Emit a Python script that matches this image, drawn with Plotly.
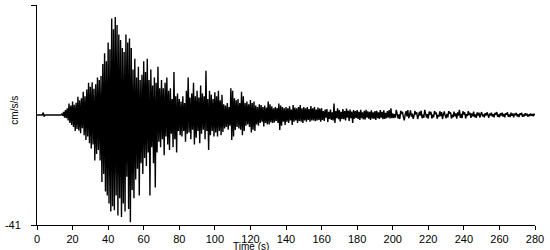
import numpy as np
import plotly.graph_objects as go

# Sampling interval of the record (s)
dt = 0.5

# Acceleration samples (cm/s/s), one every 0.5 s
accel = [
    # 0 - 9.5 s
    0, 0, 0, 0, 0, 0, 0, 0.9, -0.6, 0, 0, 0, 0, 0, 0, 0, 0, 0, 0, 0,
    # 10 - 19.5 s
    0, 0, 0, 0, 0, 0, 0, 0, 0.4, -0.3, 1.2, -1.0, 1.8, -1.2, 2.5, -2.0, 4.3, -3.0, 3.5, -3.7,
    # 20 - 29.5 s
    5.0, -4.5, 3.8, -6.0, 4.6, -5.2, 6.8, -5.8, 5.5, -6.8, 6.2, -4.9, 8.7, -7.5, 7.0, -9.3, 9.5, -8.0, 12.0, -10.5,
    # 30 - 39.5 s
    10.5, -12.5, 12.2, -11.0, 9.8, -17.0, 11.5, -14.5, 14.0, -13.0, 13.0, -17.0, 14.5, -25.0, 19.0, -22.0, 23.0, -28.5, 20.0, -30.0,
    # 40 - 49.5 s
    27.0, -33.0, 24.5, -36.0, 36.0, -34.0, 32.0, -35.5, 36.5, -30.0, 33.5, -37.5, 30.0, -31.0, 28.0, -38.0, 25.0, -33.0, 23.5, -36.0,
    # 50 - 59.5 s
    30.0, -23.0, 27.0, -35.0, 28.5, -40.0, 25.0, -28.0, 17.0, -31.0, 21.0, -24.0, 14.0, -20.0, 18.0, -30.0, 13.0, -18.0, 15.0, -22.0,
    # 60 - 69.5 s
    20.0, -16.0, 16.0, -19.0, 21.0, -14.0, 13.0, -30.0, 17.0, -12.0, 11.0, -18.0, 14.0, -27.0, 12.0, -14.0, 18.0, -10.0, 10.0, -12.0,
    # 70 - 79.5 s
    13.0, -9.0, 10.0, -15.0, 12.0, -8.0, 14.0, -11.0, 9.0, -13.0, 10.0, -7.0, 6.0, -12.0, 16.0, -9.0, 7.0, -14.0, 8.0, -6.0,
    # 80 - 89.5 s
    6.0, -7.5, 5.0, -8.0, 7.0, -6.0, 4.5, -10.0, 9.0, -7.0, 14.0, -6.5, 6.5, -9.0, 8.0, -5.5, 12.0, -11.0, 7.0, -8.5,
    # 90 - 99.5 s
    9.0, -6.0, 6.5, -10.5, 11.0, -7.0, 8.0, -5.5, 7.0, -9.0, 16.5, -6.0, 6.0, -13.0, 9.0, -7.5, 7.5, -6.0, 6.0, -8.0,
    # 100 - 109.5 s
    8.5, -6.5, 7.0, -8.0, 9.0, -6.0, 5.5, -7.5, 7.5, -6.3, 4.0, -5.0, 3.5, -4.5, 4.5, -5.5, 3.0, -4.0, 10.0, -9.3,
    # 110 - 119.5 s
    9.0, -8.0, 6.2, -5.6, 5.5, -4.5, 6.0, -5.0, 4.5, -5.5, 8.7, -7.5, 7.0, -6.0, 4.5, -4.0, 5.0, -3.5, 4.0, -4.5,
    # 120 - 129.5 s
    5.6, -6.5, 4.5, -5.5, 5.0, -6.0, 3.5, -3.5, 3.0, -4.0, 4.0, -3.0, 3.7, -2.5, 3.0, -4.3, 3.5, -3.0, 2.8, -3.5,
    # 130 - 139.5 s
    5.0, -3.5, 4.0, -2.8, 3.2, -3.0, 2.5, -2.8, 3.0, -2.2, 2.6, -3.0, 4.3, -5.6, 3.5, -4.0, 3.0, -2.5, 2.5, -3.7,
    # 140 - 149.5 s
    3.0, -2.5, 2.5, -3.0, 3.2, -2.0, 2.0, -3.7, 3.7, -2.5, 2.8, -2.0, 2.5, -3.0, 3.0, -2.2, 3.7, -2.5, 2.5, -3.0,
    # 150 - 159.5 s
    3.0, -2.0, 2.5, -2.5, 3.0, -1.8, 2.2, -2.5, 3.3, -2.0, 2.5, -2.0, 3.0, -2.3, 2.0, -2.0, 2.8, -1.8, 2.4, -2.5,
    # 160 - 169.5 s
    2.5, -1.8, 1.5, -2.2, 2.0, -1.0, 2.2, -2.6, 1.2, -1.5, 2.0, -1.8, 1.0, -2.0, 4.3, -3.0, 1.5, -1.2, 2.5, -1.6,
    # 170 - 179.5 s
    1.8, -2.4, 1.2, -1.5, 2.2, -1.6, 1.5, -2.0, 2.4, -1.0, 1.6, -2.2, 2.0, -1.2, 1.3, -3.0, 1.8, -1.4, 1.5, -1.1,
    # 180 - 189.5 s
    1.8, -1.5, 1.2, -1.8, 1.9, -1.2, 1.0, -1.6, 1.6, -1.7, 1.9, -1.0, 1.4, -1.4, 1.2, -1.8, 1.7, -1.3, 1.0, -1.5,
    # 190 - 199.5 s
    1.5, -1.8, 1.6, -1.2, 1.0, -1.5, 1.8, -1.0, 1.2, -1.6, 1.7, -1.5, 0.8, -1.2, 1.5, -1.0, 1.8, -1.3, 2.5, -1.2,
    # 200 - 209.5 s
    0.6, -1.2, 0.3, -1.0, 1.9, 0.4, -1.3, 0.2, -1.5, 1.6, 0.4, 1.2, -0.8, -2.0, 0.2, 1.4, -0.5, 1.8, -1.2, 0.0,
    # 210 - 219.5 s
    1.7, -0.6, 0.5, -1.4, -0.3, 1.5, 0.2, 1.0, -1.5, -0.3, 1.2, -0.2, 1.6, -1.2, 0.1, -1.0, 1.9, 0.6, -1.0, 0.3,
    # 220 - 229.5 s
    -1.3, 1.3, 0.2, 1.2, -1.3, 0.1, -0.8, 1.5, 0.3, 0.9, -1.4, 0.0, -0.6, 1.4, -0.4, 1.1, -1.5, 0.2, 1.3, -0.2,
    # 230 - 239.5 s
    -1.2, 0.4, -0.9, 1.5, 0.5, 1.0, -1.3, 0.1, -0.8, 1.3, -0.5, 0.6, -1.4, 1.0, -0.2, 1.9, -1.1, 0.4, -1.2, 1.4,
    # 240 - 249.5 s
    0.2, 1.0, -1.3, 0.3, -0.4, 1.4, 0.0, 0.8, -1.1, 0.6, -0.5, 1.3, -0.8, 0.2, -1.1, 1.0, -0.2, 0.9, -1.0, 0.3,
    # 250 - 259.5 s
    1.1, -0.5, 0.2, -0.9, 0.7, -0.2, 1.0, 0.1, -1.0, 0.5, -0.2, 0.9, -0.6, 0.3, -0.9, 0.8, 0.1, 1.1, -0.7, 0.2,
    # 260 - 269.5 s
    -0.9, 0.6, -0.2, 0.9, -0.6, 0.4, -0.9, 0.6, 0.1, 1.0, -0.7, 0.2, -0.8, 0.9, -0.3, 0.6, -0.9, 0.5, -0.1, 0.8,
    # 270 - 279.5 s
    -0.6, 0.3, -0.8, 0.6, 0.0, 0.8, -0.7, 0.2, -0.5, 0.7, -0.2, 0.5, -0.6, 0.2, -0.4, 0.6, -0.3, 0.4, -0.5, 0.3,
    # 280 s
    0.0,
]

time_s = np.arange(len(accel)) * dt

x_ticks = [0, 20, 40, 60, 80, 100, 120, 140, 160, 180, 200, 220, 240, 260, 280]
y_ticks = [-41, 41]
y_tick_labels = ["-41", "41"]

FONT = "Liberation Sans, Arial, sans-serif"

fig = go.Figure()
fig.add_trace(go.Scatter(
    x=time_s, y=accel, mode="lines",
    line=dict(color="black", width=1.4, simplify=False),
    hoverinfo="skip", showlegend=False,
))

fig.update_layout(
    width=550, height=250,
    margin=dict(l=35, r=15, t=5, b=25),
    paper_bgcolor="white", plot_bgcolor="white",
    font=dict(family=FONT, size=11, color="black"),
    xaxis=dict(
        range=[0, 280], tickvals=x_ticks, ticks="outside", ticklen=4,
        tickcolor="black", showline=True, linecolor="black", linewidth=1,
        showgrid=False, zeroline=False, tickfont=dict(size=11),
    ),
    yaxis=dict(
        range=[-41, 41], tickvals=y_ticks, ticktext=y_tick_labels,
        ticks="outside", ticklen=5, tickcolor="black", showline=True,
        linecolor="black", linewidth=1, showgrid=False, zeroline=False,
        tickfont=dict(size=11), ticklabelstandoff=8,
    ),
    annotations=[
        dict(text="Time (s)", xref="paper", yref="paper", x=0.43, y=-0.097,
             xanchor="center", yanchor="middle", showarrow=False,
             font=dict(size=10)),
        dict(text="cm/s/s", xref="paper", yref="paper", x=-0.044, y=0.52,
             xanchor="center", yanchor="middle", textangle=-90,
             showarrow=False, font=dict(size=10)),
    ],
)

fig.write_html("out.html")
